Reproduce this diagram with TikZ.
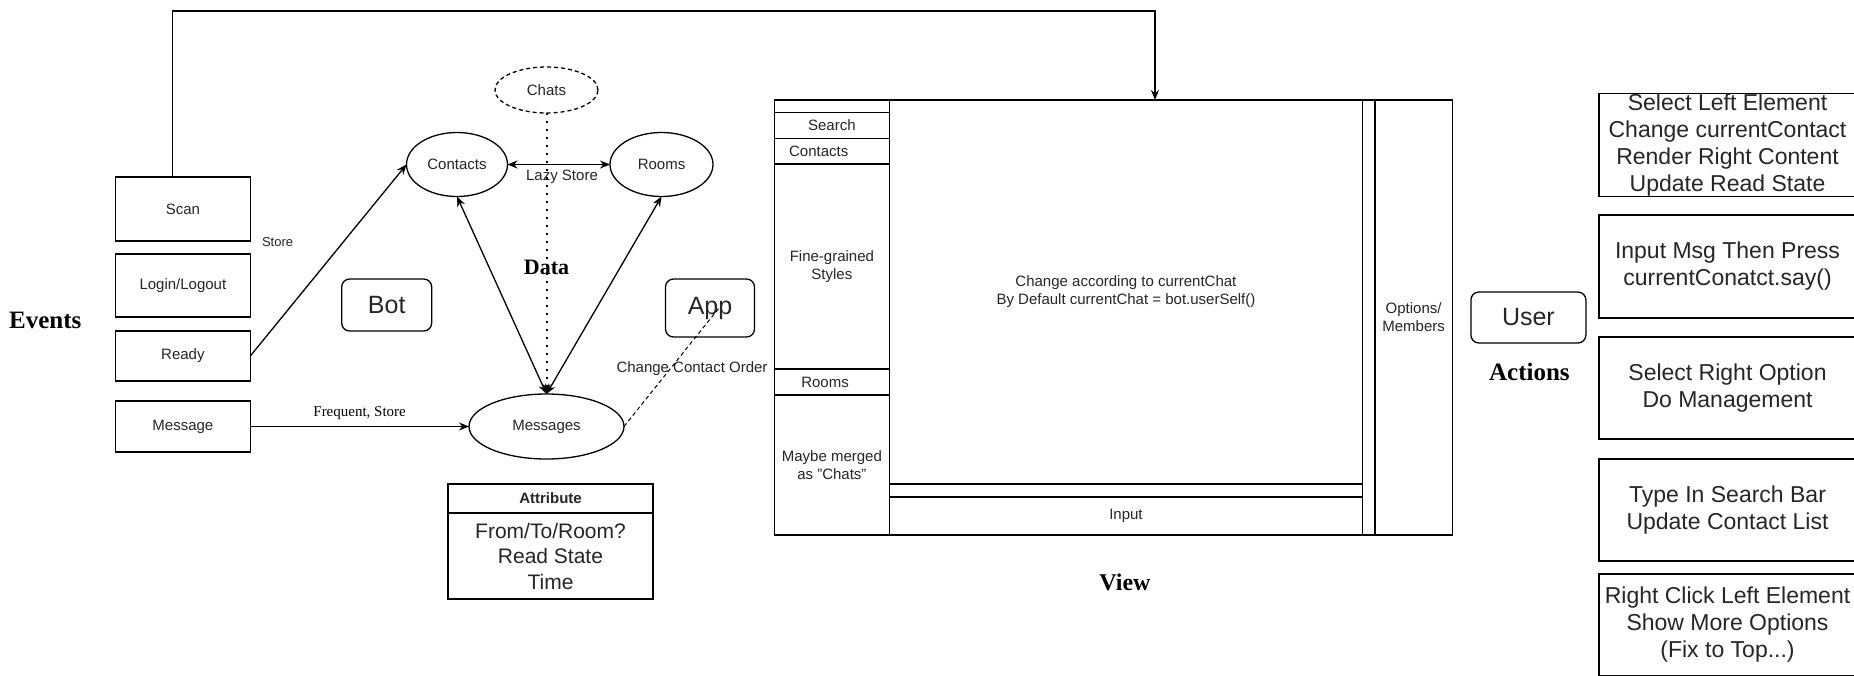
\documentclass[tikz,border=0pt]{standalone}
\usepackage{fontspec}
\setmainfont{Liberation Serif}
\setsansfont{Liberation Sans}
\usetikzlibrary{shapes.geometric,arrows.meta}
\tikzset{
  box/.style={draw, line width=1.3pt, rectangle, inner sep=0pt, outer sep=0pt, align=center,
    font=\sffamily\fontsize{15}{18}\selectfont, text=black!85},
  rbox/.style={box, rounded corners=8pt, font=\sffamily\fontsize{25}{30}\selectfont},
  ell/.style={draw, line width=1.3pt, ellipse, inner sep=0pt, outer sep=0pt,
    font=\sffamily\fontsize{15}{18}\selectfont, text=black!85},
  actbox/.style={box, font=\sffamily\fontsize{23}{27}\selectfont},
  attbody/.style={box, font=\sffamily\fontsize{21}{25.5}\selectfont},
  ttl/.style={inner sep=0pt, font=\bfseries\fontsize{25}{30}\selectfont},
  lbl/.style={inner sep=0pt, align=center, font=\sffamily\fontsize{15}{18}\selectfont, text=black!85},
  conn/.style={line width=1.3pt},
  tip/.style={-{Stealth[length=10pt,width=8pt]}},
  tips/.style={{Stealth[length=10pt,width=8pt]}-{Stealth[length=10pt,width=8pt]}},
}
\begin{document}
\begin{tikzpicture}[x=1pt,y=-1pt]
\useasboundingbox (0,0) rectangle (1854,675);
\clip (0,0) rectangle (1854,675);
\fill[white] (0,0) rectangle (1854,675);

% Events
\node[ttl] (events) at (45.3,320) {Events};
\node[box, minimum width=134.8pt, minimum height=64pt] (scan) at (182.9,209) {Scan};
\node[box, minimum width=134.8pt, minimum height=63pt] (login) at (182.9,285.5) {Login/Logout};
\node[box, minimum width=134.8pt, minimum height=50pt] (ready) at (182.9,356) {Ready};
\node[box, minimum width=134.8pt, minimum height=51pt] (message) at (182.9,426.5) {Message};
\node[lbl, font=\sffamily\fontsize{13}{16}\selectfont] (storelbl) at (277.6,242) {Store};

% Data
\node[rbox, minimum width=90pt, minimum height=52pt] (bot) at (386.7,305) {Bot};
\node[rbox, minimum width=89pt, minimum height=58pt] (app) at (710,308) {App};
\node[ell, dashed, dash pattern=on 4pt off 3pt, minimum width=103pt, minimum height=46pt] (chats) at (546.5,90) {Chats};
\node[ell, minimum width=101pt, minimum height=64pt] (contacts) at (457,164.5) {Contacts};
\node[ell, minimum width=103pt, minimum height=64pt] (rooms) at (661.5,164.5) {Rooms};
\node[ell, minimum width=155pt, minimum height=65pt] (messages) at (546.5,426.5) {Messages};
\node[ttl, font=\bfseries\fontsize{22}{26}\selectfont] (data) at (546.5,267) {Data};
\node[box, font=\sffamily\bfseries\fontsize{15}{18}\selectfont, minimum width=205pt, minimum height=29pt] (atthead) at (550.5,498.5) {Attribute};
\node[attbody, minimum width=205pt, minimum height=86pt] (attbody) at (550.5,556) {From/To/Room?\\Read State\\Time};

% View
\node[box, minimum width=115pt, minimum height=12.7pt] (coltop) at (831.85,106.35) {};
\node[box, minimum width=115pt, minimum height=25.6pt] (search) at (831.85,125.5) {Search};
\node[box, minimum width=115pt, minimum height=25.7pt] (contactsrow) at (831.85,151.15) {};
\node[lbl] (contactstxt) at (818.7,151.5) {Contacts};
\node[box, minimum width=115pt, minimum height=205pt] (fine) at (831.85,266.5) {Fine-grained\\Styles};
\node[box, minimum width=115pt, minimum height=26pt] (roomsrow) at (831.85,382) {};
\node[lbl] (roomstxt) at (825,382) {Rooms};
\node[box, minimum width=115pt, minimum height=140pt] (merged) at (831.85,465) {Maybe merged\\as "Chats"};
\node[box, minimum width=473.3pt, minimum height=384pt] (main) at (1125.95,292) {Change according to currentChat\\By Default currentChat = bot.userSelf()};
\node[box, minimum width=473.3pt, minimum height=38pt] (input) at (1125.95,516) {Input};
\draw[conn] (coltop.north east) -- (main.north west);
\draw[conn] (merged.south east) -- (input.south west);
\node[box, minimum width=12.4pt, minimum height=435pt] (strip) at (1368.8,317.5) {};
\node[box, minimum width=77.3pt, minimum height=435pt] (options) at (1413.65,317.5) {Options/\\Members};
\node[ttl, font=\bfseries\fontsize{24}{29}\selectfont] (view) at (1125,582) {View};

% User / Actions
\node[rbox, minimum width=115pt, minimum height=51pt] (user) at (1528.4,317.5) {User};
\node[ttl] (actions) at (1529.4,372) {Actions};
\node[actbox, minimum width=257pt, minimum height=102pt] (act1) at (1727.5,145) {Select Left Element\\Change currentContact\\Render Right Content\\Update Read State};
\node[actbox, minimum width=257pt, minimum height=103pt] (act2) at (1727.5,266.5) {Input Msg Then Press\\currentConatct.say()};
\node[actbox, minimum width=257pt, minimum height=102pt] (act3) at (1727.5,388) {Select Right Option\\Do Management};
\node[actbox, minimum width=257pt, minimum height=102pt] (act4) at (1727.5,510) {Type In Search Bar\\Update Contact List};
\node[actbox, minimum width=257pt, minimum height=102pt] (act5) at (1727.5,625) {Right Click Left Element\\Show More Options\\(Fix to Top...)};

% Connectors
\coordinate (scantop) at (172.8,177);
\coordinate (viewtop) at (1155,100);
\draw[conn, tip] (scantop) -- (172.8,11) -| (viewtop);
\draw[conn, tip] (ready.east) -- (contacts.west);
\draw[conn, tip] (message.east) -- node[above=6pt, inner sep=0pt, font=\fontsize{15}{18}\selectfont] (freqlbl) {Frequent, Store} (messages.west);
\draw[conn, tips] (contacts.east) -- (rooms.west);
\draw[conn, tips] (contacts.south) -- (messages.north);
\draw[conn, tips] (rooms.south) -- (messages.north);
\draw[line width=2pt, dash pattern=on 2pt off 6pt, tip] (chats.south) -- (messages.north);
\node[lbl, text=black!85] (lazylbl) at (562,177.3) {Lazy Store};
\coordinate (append) at (719,308);
\node[lbl] (cco) at (692,369) {Change Contact Order};
\draw[line width=1pt, dash pattern=on 4pt off 3pt] (messages.east) -- (append);
\end{tikzpicture}
\end{document}
